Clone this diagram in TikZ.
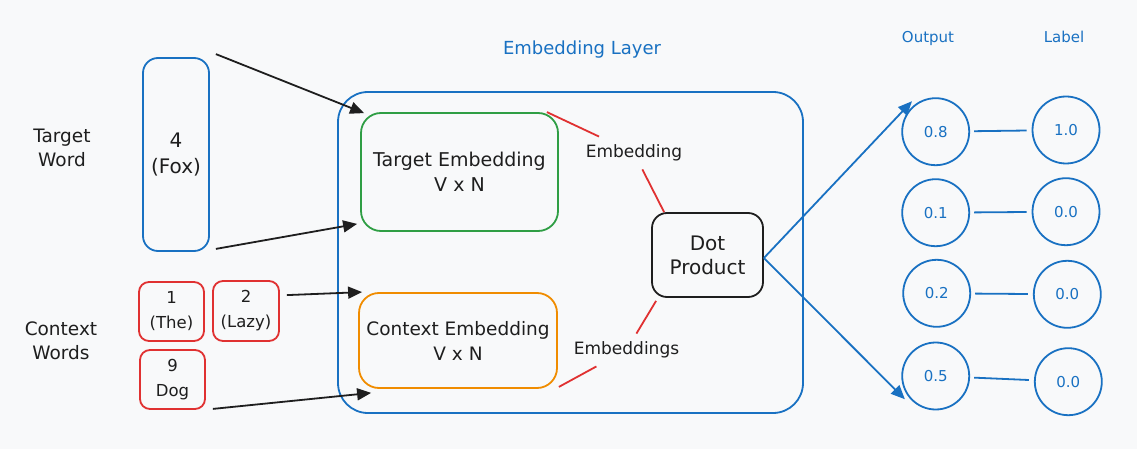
\documentclass[tikz,border=0pt]{standalone}
\usepackage{fontspec}
\setmainfont{DejaVu Sans}
\usetikzlibrary{arrows.meta,calc}
\definecolor{exblue}{HTML}{1971C2}
\definecolor{exgreen}{HTML}{2F9E44}
\definecolor{exorange}{HTML}{F08C00}
\definecolor{exred}{HTML}{E03131}
\definecolor{exblack}{HTML}{1E1E1E}
\definecolor{bgc}{HTML}{F8F9FA}
\newcommand\myfs[2]{\fontsize{#1}{#2}\selectfont}
\tikzset{
  box/.style={draw, line width=1.8pt, inner sep=0pt, align=center, text=exblack},
  txt/.style={align=center, text=exblack, inner sep=0pt},
  lab/.style={align=center, text=exblack, inner xsep=4pt, inner ysep=8pt, font=\myfs{17}{22}},
  redl/.style={draw=exred, line width=1.8pt},
  arr/.style={draw=exblack, line width=1.8pt, -{Triangle[length=14pt,width=12pt]}},
  barr/.style={draw=exblue, line width=1.8pt, -{Triangle[length=14pt,width=12pt]}},
  circ/.style={circle, draw=exblue, line width=1.8pt, minimum size=67pt, inner sep=0pt, text=exblue, font=\myfs{15}{18}},
  bl/.style={draw=exblue, line width=1.8pt},
}
\begin{document}
\begin{tikzpicture}[x=1pt,y=-1pt]
\fill[bgc] (0,0) rectangle (1137,449);
\useasboundingbox (0,0) rectangle (1137,449);

% left labels
\node[txt, font=\myfs{18.5}{24}] (tw) at (62,148) {Target\\Word};
\node[txt, font=\myfs{18.5}{24}] (cw) at (61,341) {Context\\Words};

% input boxes
\node[box, draw=exblue, rounded corners=15pt, minimum width=66pt, minimum height=193pt, font=\myfs{20}{26}] (fox) at (176,154.5) {4\\(Fox)};
\node[box, draw=exred, rounded corners=10pt, minimum width=65pt, minimum height=59pt, font=\myfs{16.5}{25}] (w1) at (171.5,311.5) {1\\(The)};
\node[box, draw=exred, rounded corners=10pt, minimum width=66pt, minimum height=60pt, font=\myfs{16.5}{25}] (w2) at (246,311) {2\\(Lazy)};
\node[box, draw=exred, rounded corners=10pt, minimum width=65pt, minimum height=59pt, font=\myfs{16.5}{25}] (w9) at (172.5,379.5) {9\\Dog};

% embedding layer
\node[box, draw=exblue, rounded corners=30pt, minimum width=465pt, minimum height=321pt] (layer) at (570.5,252.5) {};
\node[txt, text=exblue, font=\myfs{18}{24}] (layert) at (582,50) {Embedding Layer};

\node[box, draw=exgreen, rounded corners=20pt, minimum width=197pt, minimum height=118pt, font=\myfs{19}{25}] (te) at (459.5,172) {Target Embedding\\V x N};
\node[box, draw=exorange, rounded corners=20pt, minimum width=198pt, minimum height=95pt, font=\myfs{18.5}{25}] (ce) at (458,340.5) {Context Embedding\\V x N};
\node[box, draw=exblack, rounded corners=15pt, minimum width=111pt, minimum height=84pt, font=\myfs{20}{24}] (dot) at (707.5,255) {Dot\\Product};

\node[lab] (lab1) at (634,153) {Embedding};
\node[lab] (lab2) at (626.5,350) {Embeddings};

\draw[redl] ([xshift=-12pt]te.north east) -- (lab1);
\draw[redl] (lab1) -- ([xshift=13pt]dot.north west);
\draw[redl] ([xshift=5pt,yshift=-3pt]dot.south west) -- (lab2);
\draw[redl] (lab2) -- ([xshift=1pt,yshift=2pt]ce.south east);

% black arrows
\draw[arr] ([xshift=6pt,yshift=3pt]fox.north east) -- ([xshift=4pt,yshift=-1pt]te.north west);
\draw[arr] ([xshift=6pt,yshift=3pt]fox.south east) -- ([xshift=-3pt,yshift=8pt]te.south west);
\draw[arr] ([xshift=7pt,yshift=-15pt]w2.north east) -- ([xshift=4pt]ce.north west);
\draw[arr] ([xshift=7pt,yshift=1pt]w9.south east) -- ([xshift=13pt,yshift=-4pt]ce.south west);

% outputs
\node[txt, text=exblue, font=\myfs{15}{18}] (outt) at (928,38) {Output};
\node[txt, text=exblue, font=\myfs{15}{18}] (labt) at (1064,37) {Label};

\node[circ] (o1) at (935.7,131.7) {0.8};
\node[circ] (o2) at (935.7,212.7) {0.1};
\node[circ] (o3) at (936.7,293.3) {0.2};
\node[circ] (o4) at (935.7,376) {0.5};
\node[circ] (l1) at (1066,130) {1.0};
\node[circ] (l2) at (1066,211.7) {0.0};
\node[circ] (l3) at (1067.3,294.3) {0.0};
\node[circ] (l4) at (1068.3,381.7) {0.0};

\draw[bl, shorten <=4pt, shorten >=5pt] (o1) -- (l1);
\draw[bl, shorten <=4pt, shorten >=5pt] (o2) -- (l2);
\draw[bl, shorten <=4pt, shorten >=5pt] (o3) -- (l3);
\draw[bl, shorten <=4pt, shorten >=5pt] (o4) -- (l4);

\draw[barr] ([yshift=-3pt]dot.east) -- ([shift={(-3pt,3pt)}]o1.127);
\draw[barr] ([yshift=-3pt]dot.east) -- ([shift={(-3pt,-3pt)}]o4.216);
\end{tikzpicture}
\end{document}
